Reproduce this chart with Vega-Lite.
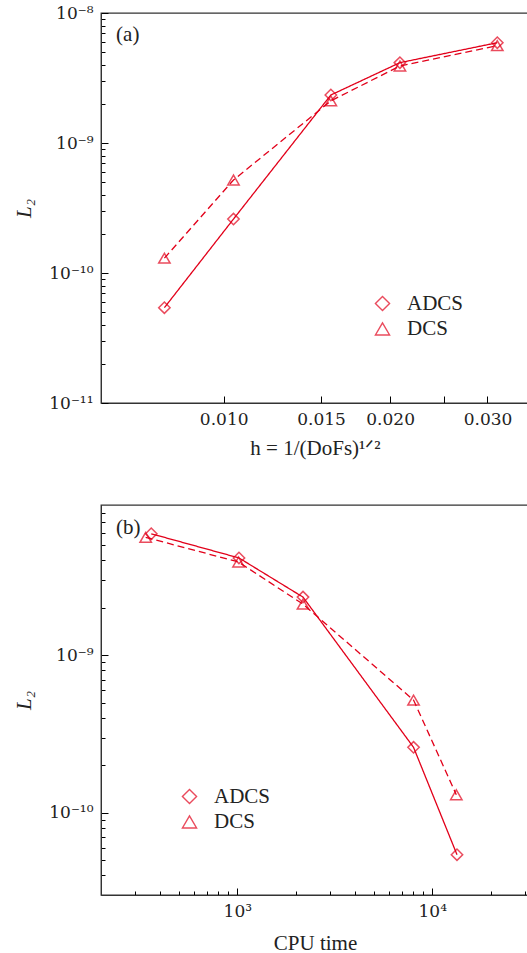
{
  "$schema": "https://vega.github.io/schema/vega-lite/v6.json",
  "padding": {"left": 13, "top": 3, "right": 0, "bottom": 0},
  "background": "white",
  "datasets": {
    "conv": [
      {"method": "ADCS", "h": 0.0078125, "cpu": 13390, "L2": 5.41e-11},
      {"method": "ADCS", "h": 0.0104167, "cpu": 8017, "L2": 2.60e-10},
      {"method": "ADCS", "h": 0.015625, "cpu": 2173, "L2": 2.34e-9},
      {"method": "ADCS", "h": 0.0208333, "cpu": 1020, "L2": 4.15e-9},
      {"method": "ADCS", "h": 0.03125, "cpu": 362, "L2": 5.91e-9},
      {"method": "DCS", "h": 0.0078125, "cpu": 13280, "L2": 1.30e-10},
      {"method": "DCS", "h": 0.0104167, "cpu": 8017, "L2": 5.19e-10},
      {"method": "DCS", "h": 0.015625, "cpu": 2173, "L2": 2.11e-9},
      {"method": "DCS", "h": 0.0208333, "cpu": 1015, "L2": 3.91e-9},
      {"method": "DCS", "h": 0.03125, "cpu": 339, "L2": 5.61e-9}
    ],
    "panelA": [{"label": "(a)"}],
    "panelB": [{"label": "(b)"}]
  },
  "config": {
    "view": {"stroke": "#333", "strokeWidth": 1.3}
  },
  "spacing": 44,
  "vconcat": [
    {
      "width": 428, "height": 390,
      "layer": [
        {
          "data": {"name": "conv"},
          "mark": {"type": "line", "strokeWidth": 1.3, "color": "#e2001a"},
          "encoding": {
            "x": {"field": "h", "type": "quantitative",
              "scale": {"type": "log", "domain": [0.006, 0.03566], "nice": false},
              "axis": {"values": [0.01, 0.015, 0.02, 0.025, 0.03],
                "labelExpr": "datum.value == 0.025 ? '' : format(datum.value, '.3f')",
                "grid": false, "domain": true, "domainColor": "#333", "tickSize": -7, "tickColor": "black", "tickWidth": 1,
                "labelPadding": 15, "labelFont": "DejaVu Serif", "labelFontSize": 17, "labelColor": "#222", "labelFlush": false, "labelOverlap": false,
                "title": "h = 1/(DoFs)¹ᐟ²", "titleFont": "Liberation Serif", "titleFontSize": 21, "titleFontWeight": "normal", "titleColor": "#222", "titlePadding": 10}},
            "y": {"field": "L2", "type": "quantitative",
              "scale": {"type": "log", "domain": [1e-11, 1e-8], "nice": false},
              "axis": {"values": [1e-11, 2e-11, 3e-11, 4e-11, 5e-11, 6e-11, 7e-11, 8e-11, 9e-11, 1e-10, 2e-10, 3e-10, 4e-10, 5e-10, 6e-10, 7e-10, 8e-10, 9e-10, 1e-9, 2e-9, 3e-9, 4e-9, 5e-9, 6e-9, 7e-9, 8e-9, 9e-9, 1e-8],
                "labelExpr": "datum.value == 1e-8 ? '10⁻⁸' : datum.value == 1e-9 ? '10⁻⁹' : datum.value == 1e-10 ? '10⁻¹⁰' : datum.value == 1e-11 ? '10⁻¹¹' : ''",
                "grid": false, "domain": true, "domainColor": "#333", "tickColor": "black", "tickWidth": 1,
                "tickSize": {"condition": {"test": "abs(log(datum.value)/LN10 - round(log(datum.value)/LN10)) < 1e-6", "value": -7}, "value": -4},
                "labelPadding": 15, "labelFont": "DejaVu Serif", "labelFontSize": 17, "labelColor": "#222", "labelOverlap": false,
                "title": "L₂", "titleFont": "Liberation Serif", "titleFontSize": 21, "titleFontWeight": "normal", "titleFontStyle": "italic", "titleColor": "#222", "titlePadding": 14}},
            "strokeDash": {"field": "method", "type": "nominal", "scale": {"domain": ["ADCS", "DCS"], "range": [[1, 0], [7, 4]]}, "legend": null}
          }
        },
        {
          "data": {"name": "conv"},
          "mark": {"type": "point", "filled": false, "size": 130, "strokeWidth": 1.5, "color": "#e2001a"},
          "encoding": {
            "x": {"field": "h", "type": "quantitative"},
            "y": {"field": "L2", "type": "quantitative"},
            "shape": {"field": "method", "type": "nominal",
              "scale": {"range": ["diamond", "triangle-up"]},
              "legend": {"orient": "none", "legendX": 271, "legendY": 280, "title": "",
                "symbolSize": 200, "symbolStrokeWidth": 1.4, "symbolStrokeColor": "#e2001a",
                "labelFont": "Liberation Serif", "labelFontSize": 21, "labelColor": "#222", "labelOffset": 14, "rowPadding": 3.4}}
          }
        },
        {
          "data": {"name": "panelA"},
          "mark": {"type": "text", "align": "left", "baseline": "alphabetic", "font": "Liberation Serif", "fontSize": 21, "color": "#222"},
          "encoding": {
            "x": {"datum": 0.00639, "type": "quantitative"},
            "y": {"datum": 6.09e-9, "type": "quantitative"},
            "text": {"field": "label"}
          }
        }
      ]
    },
    {
      "width": 428, "height": 390,
      "layer": [
        {
          "data": {"name": "conv"},
          "mark": {"type": "line", "strokeWidth": 1.3, "color": "#e2001a"},
          "encoding": {
            "x": {"field": "cpu", "type": "quantitative",
              "scale": {"type": "log", "domain": [200, 31340], "nice": false},
              "axis": {"values": [300, 400, 500, 600, 700, 800, 900, 1000, 2000, 3000, 4000, 5000, 6000, 7000, 8000, 9000, 10000, 20000, 30000],
                "labelExpr": "datum.value == 1000 ? '10³' : datum.value == 10000 ? '10⁴' : ''",
                "grid": false, "domain": true, "domainColor": "#333", "tickColor": "black", "tickWidth": 1,
                "tickSize": {"condition": {"test": "abs(log(datum.value)/LN10 - round(log(datum.value)/LN10)) < 1e-6", "value": -7}, "value": -4},
                "labelPadding": 15, "labelFont": "DejaVu Serif", "labelFontSize": 17, "labelColor": "#222", "labelFlush": false, "labelOverlap": false,
                "title": "CPU time", "titleFont": "Liberation Serif", "titleFontSize": 21, "titleFontWeight": "normal", "titleColor": "#222", "titlePadding": 10}},
            "y": {"field": "L2", "type": "quantitative",
              "scale": {"type": "log", "domain": [3e-11, 9e-9], "nice": false},
              "axis": {"values": [4e-11, 5e-11, 6e-11, 7e-11, 8e-11, 9e-11, 1e-10, 2e-10, 3e-10, 4e-10, 5e-10, 6e-10, 7e-10, 8e-10, 9e-10, 1e-9, 2e-9, 3e-9, 4e-9, 5e-9, 6e-9, 7e-9, 8e-9],
                "labelExpr": "datum.value == 1e-9 ? '10⁻⁹' : datum.value == 1e-10 ? '10⁻¹⁰' : ''",
                "grid": false, "domain": true, "domainColor": "#333", "tickColor": "black", "tickWidth": 1,
                "tickSize": {"condition": {"test": "abs(log(datum.value)/LN10 - round(log(datum.value)/LN10)) < 1e-6", "value": -7}, "value": -4},
                "labelPadding": 15, "labelFont": "DejaVu Serif", "labelFontSize": 17, "labelColor": "#222", "labelOverlap": false,
                "title": "L₂", "titleFont": "Liberation Serif", "titleFontSize": 21, "titleFontWeight": "normal", "titleFontStyle": "italic", "titleColor": "#222", "titlePadding": 14}},
            "strokeDash": {"field": "method", "type": "nominal", "scale": {"domain": ["ADCS", "DCS"], "range": [[1, 0], [7, 4]]}, "legend": null}
          }
        },
        {
          "data": {"name": "conv"},
          "mark": {"type": "point", "filled": false, "size": 130, "strokeWidth": 1.5, "color": "#e2001a"},
          "encoding": {
            "x": {"field": "cpu", "type": "quantitative"},
            "y": {"field": "L2", "type": "quantitative"},
            "shape": {"field": "method", "type": "nominal",
              "scale": {"range": ["diamond", "triangle-up"]},
              "legend": {"orient": "none", "legendX": 78, "legendY": 281, "title": "",
                "symbolSize": 200, "symbolStrokeWidth": 1.4, "symbolStrokeColor": "#e2001a",
                "labelFont": "Liberation Serif", "labelFontSize": 21, "labelColor": "#222", "labelOffset": 14, "rowPadding": 3.4}}
          }
        },
        {
          "data": {"name": "panelB"},
          "mark": {"type": "text", "align": "left", "baseline": "alphabetic", "font": "Liberation Serif", "fontSize": 21, "color": "#222"},
          "encoding": {
            "x": {"datum": 239, "type": "quantitative"},
            "y": {"datum": 5.92e-9, "type": "quantitative"},
            "text": {"field": "label"}
          }
        }
      ]
    }
  ],
  "resolve": {"scale": {"shape": "independent", "strokeDash": "independent"}, "legend": {"shape": "independent", "strokeDash": "independent"}}
}
